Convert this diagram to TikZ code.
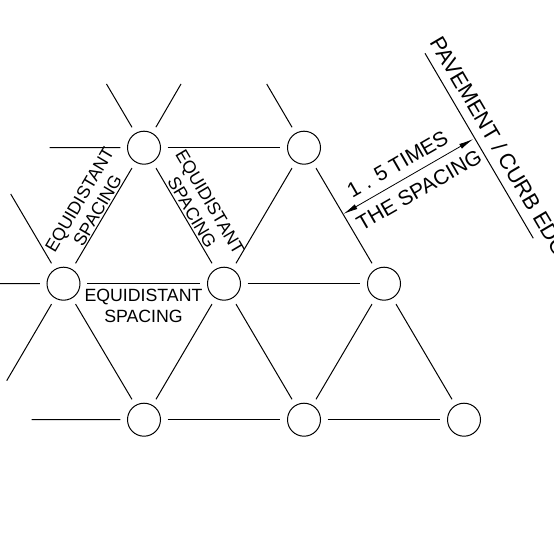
\documentclass[tikz,border=0pt]{standalone}
\usepackage{fontspec}
\setmainfont{Liberation Sans}
\usetikzlibrary{arrows.meta}
\tikzset{
  hole/.style={circle,draw,line width=0.75pt,minimum size=24.75pt,inner sep=0pt,outer sep=5.4pt},
  rowline/.style={line width=0.75pt},
  label/.style={font=\fontsize{13.3}{15.6}\selectfont,align=center,inner sep=0pt},
  dimlabel/.style={font=\fontsize{15.7}{18}\selectfont,inner sep=0pt},
  dimline/.style={line width=0.6pt,{Latex[length=11pt,width=4pt]}-{Latex[length=11pt,width=4pt]}}
}
\begin{document}
\begin{tikzpicture}[x=0.75pt,y=0.75pt,yscale=-1,xscale=1]
\useasboundingbox (0,0) rectangle (553,556);

% Circles
\draw (144,147.7) node (topa) [hole] {};
\draw (304,147.7) node (topb) [hole] {};
\draw (63.5,283.7) node (mida) [hole] {};
\draw (224,283.7) node (midb) [hole] {};
\draw (384,283.7) node (midc) [hole] {};
\draw (144,419.7) node (lowa) [hole] {};
\draw (304,419.7) node (lowb) [hole] {};
\draw (464,419.7) node (lowc) [hole] {};

% Free ends
\coordinate (stuba) at (49.5,147.7);
\coordinate (stubb) at (106.5,84);
\coordinate (stubc) at (181,84);
\coordinate (stubd) at (266.7,84);
\coordinate (stube) at (0,283.7);
\coordinate (stubf) at (10.7,194);
\coordinate (stubg) at (6.7,380.7);
\coordinate (stubh) at (31.7,419.7);
\coordinate (pavea) at (425,53.3);
\coordinate (paveb) at (533.3,238.3);
\coordinate (dima) at (343.3,214);
\coordinate (dimb) at (473.3,139);

% Straight Lines
\draw [rowline] (topa) -- (topb) (mida) -- (midb) (midb) -- (midc) (lowa) -- (lowb) (lowb) -- (lowc);
\draw [rowline] (topa) -- (mida) (topa) -- (midb) (topb) -- (midb) (topb) -- (midc);
\draw [rowline] (mida) -- (lowa) (midb) -- (lowa) (midb) -- (lowb) (midc) -- (lowb) (midc) -- (lowc);
\draw [rowline] (topa) -- (stuba) (topa) -- (stubb) (topa) -- (stubc) (topb) -- (stubd);
\draw [rowline] (mida) -- (stube) (mida) -- (stubf) (mida) -- (stubg) (lowa) -- (stubh);
\draw [rowline] (pavea) -- (paveb);
\draw [dimline] (dima) -- (dimb);

% Text Node
\draw (143.5,306) node (spacea) [label] {EQUIDISTANT\\SPACING};
% Text Node
\draw (88.5,205) node (spaceb) [label,rotate=59.5] {EQUIDISTANT\\SPACING};
% Text Node
\draw (201,207) node (spacec) [label,rotate=-59.5] {EQUIDISTANT\\SPACING};
% Text Node
\draw (397.5,164) node (timesa) [dimlabel,rotate=30] {1 . 5 TIMES};
% Text Node
\draw (419,190) node (timesb) [dimlabel,rotate=30] {THE SPACING};
% Text Node
\draw (429,42) node (edgea) [dimlabel,font=\fontsize{16.4}{18}\selectfont,rotate=-59.5,anchor=base west] {PAVEMENT / CURB EDGE};

\end{tikzpicture}
\end{document}
